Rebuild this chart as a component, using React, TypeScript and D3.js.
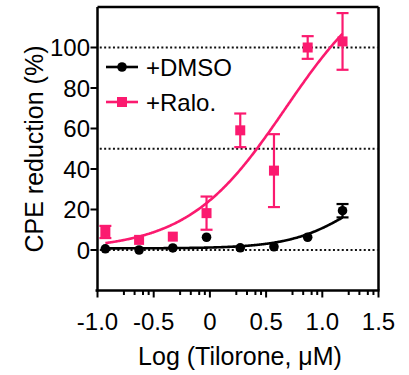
import React, {useEffect, useRef} from "react";
import * as d3 from "d3";

// log10 concentration of tilorone (uM)
const logConc: number[] = [-0.93, -0.63, -0.33, -0.03, 0.27, 0.57, 0.87, 1.18];

const dmsoMean: number[] = [0.6, 0, 1, 6.3, 1.1, 1.6, 6.3, 19.4];
const dmsoErr: number[] = [0, 0, 0, 0, 0, 0, 0, 3.3];

const raloMean: number[] = [8.9, 5, 6.6, 18.2, 59.1, 39.2, 100, 103];
const raloErr: number[] = [3, 0, 0, 8.2, 8.3, 18, 5.6, 14];

// fitted sigmoid params: bottom, top, logEC50, hill slope
const dmsoFit: number[] = [0.8, 40, 1.31, 1.5];
const raloFit: number[] = [0, 140, 0.673, 1];

const xTicks: number[] = [-1, -0.5, 0, 0.5, 1, 1.5];
const xTickLabels: string[] = ["-1.0", "-0.5", "0", "0.5", "1.0", "1.5"];
const minorFrac: number[] = [0.47, 0.66, 0.81, 0.91];
const yTicks: number[] = [0, 20, 40, 60, 80, 100];
const refLines: number[] = [0, 50, 100];

const PINK = "#fb1a6f";
const FONT = "'Liberation Sans', Arial, Helvetica, sans-serif";

const App: React.FC = () => {
    const svgRef = useRef<SVGSVGElement>(null);
    const width = 409;
    const height = 375;

    useEffect(() => {
        const svg = d3.select(svgRef.current);
        svg.selectAll("*").remove();

        const x = d3.scaleLinear().domain([-1, 1.5]).range([97.5, 378.5]);
        const y = d3.scaleLinear().domain([-20, 120]).range([290.5, 7]);

        const hill = (p: number[]) => (v: number) =>
            p[0] + (p[1] - p[0]) / (1 + Math.pow(10, (p[2] - v) * p[3]));

        // dotted reference lines
        svg.append("g").selectAll("line")
            .data(refLines)
            .join("line")
            .attr("x1", x(-0.98)).attr("x2", x(1.49))
            .attr("y1", d => y(d)).attr("y2", d => y(d))
            .attr("stroke", "#111")
            .attr("stroke-width", 2)
            .attr("stroke-dasharray", "2,2.4");

        // frame
        const frame = svg.append("g").attr("stroke", "#000").attr("stroke-width", 2.5).attr("fill", "none");
        frame.append("line").attr("x1", x(-1)).attr("x2", x(1.5)).attr("y1", y(120)).attr("y2", y(120));
        frame.append("line").attr("x1", x(1.5)).attr("x2", x(1.5)).attr("y1", y(120)).attr("y2", y(-20));
        frame.append("line").attr("x1", x(-1)).attr("x2", x(-1)).attr("y1", y(120)).attr("y2", y(-20) + 1);
        frame.append("line").attr("x1", x(-1) - 2).attr("x2", x(1.5) + 1).attr("y1", y(-20)).attr("y2", y(-20));

        // x ticks
        const xg = svg.append("g").attr("stroke", "#000").attr("stroke-width", 2);
        xTicks.forEach((t, i) => {
            xg.append("line").attr("x1", x(t)).attr("x2", x(t)).attr("y1", y(-20)).attr("y2", y(-20) + 7);
            if (i < xTicks.length - 1) {
                minorFrac.forEach(f => {
                    const v = t + 0.5 * f;
                    xg.append("line").attr("x1", x(v)).attr("x2", x(v)).attr("y1", y(-20)).attr("y2", y(-20) + 4.5);
                });
            }
        });
        svg.append("g").selectAll("text")
            .data(xTicks)
            .join("text")
            .attr("x", d => x(d))
            .attr("y", 330)
            .attr("text-anchor", "middle")
            .attr("font-family", FONT)
            .attr("font-size", 24)
            .text((d, i) => xTickLabels[i]);

        // y ticks
        svg.append("g").selectAll("line")
            .data(yTicks)
            .join("line")
            .attr("x1", x(-1) - 7).attr("x2", x(-1))
            .attr("y1", d => y(d)).attr("y2", d => y(d))
            .attr("stroke", "#000").attr("stroke-width", 2);
        svg.append("g").selectAll("text")
            .data(yTicks)
            .join("text")
            .attr("x", 90)
            .attr("y", d => y(d))
            .attr("dy", "0.36em")
            .attr("text-anchor", "end")
            .attr("font-family", FONT)
            .attr("font-size", 24)
            .text(d => d);

        // axis titles
        svg.append("text")
            .attr("x", 240).attr("y", 365)
            .attr("text-anchor", "middle")
            .attr("font-family", FONT).attr("font-size", 25)
            .text("Log (Tilorone, \u03bcM)");
        svg.append("text")
            .attr("transform", "translate(43,149) rotate(-90)")
            .attr("text-anchor", "middle")
            .attr("font-family", FONT).attr("font-size", 25)
            .text("CPE reduction (%)");

        // fitted curves
        const xs = d3.range(logConc[0], logConc[logConc.length - 1] + 0.001, 0.01);
        const line = d3.line<number>().curve(d3.curveMonotoneX);
        const series = [
            {fit: dmsoFit, color: "#000"},
            {fit: raloFit, color: PINK}
        ];
        series.forEach(s => {
            const f = hill(s.fit);
            svg.append("path")
                .attr("d", line(xs.map(v => [x(v), y(f(v))] as [number, number]) as any))
                .attr("fill", "none")
                .attr("stroke", s.color)
                .attr("stroke-width", 2.6);
        });

        // error bars + markers (zero error = bar hidden behind marker)
        const drawErr = (means: number[], errs: number[], color: string) => {
            const g = svg.append("g").attr("stroke", color).attr("stroke-width", 2.2);
            means.forEach((m, i) => {
                if (!errs[i]) return;
                const cx = x(logConc[i]);
                g.append("line").attr("x1", cx).attr("x2", cx).attr("y1", y(m + errs[i])).attr("y2", y(m - errs[i]));
                [m + errs[i], m - errs[i]].forEach(v => {
                    g.append("line").attr("x1", cx - 6).attr("x2", cx + 6).attr("y1", y(v)).attr("y2", y(v));
                });
            });
        };
        drawErr(dmsoMean, dmsoErr, "#000");
        drawErr(raloMean, raloErr, PINK);

        svg.append("g").selectAll("circle")
            .data(dmsoMean)
            .join("circle")
            .attr("cx", (d, i) => x(logConc[i]))
            .attr("cy", d => y(d))
            .attr("r", 4.8)
            .attr("fill", "#000");
        svg.append("g").selectAll("rect")
            .data(raloMean)
            .join("rect")
            .attr("x", (d, i) => x(logConc[i]) - 5)
            .attr("y", d => y(d) - 5)
            .attr("width", 10).attr("height", 10)
            .attr("fill", PINK);

        // legend
        const leg = svg.append("g");
        const items = [
            {label: "+DMSO", color: "#000", cy: 67, shape: "circle"},
            {label: "+Ralo.", color: PINK, cy: 102, shape: "rect"}
        ];
        items.forEach(it => {
            leg.append("line")
                .attr("x1", 106).attr("x2", 138)
                .attr("y1", it.cy).attr("y2", it.cy)
                .attr("stroke", it.color).attr("stroke-width", 2.6);
            if (it.shape === "circle") {
                leg.append("circle").attr("cx", 122).attr("cy", it.cy).attr("r", 4.8).attr("fill", it.color);
            } else {
                leg.append("rect").attr("x", 117).attr("y", it.cy - 5).attr("width", 10).attr("height", 10).attr("fill", it.color);
            }
            leg.append("text")
                .attr("x", 146).attr("y", it.cy + 8.5)
                .attr("font-family", FONT).attr("font-size", 24)
                .text(it.label);
        });
    }, []);

    return <svg ref={svgRef} width={width} height={height}
                style={{position: "absolute", left: 0, top: 0, background: "#fff"}}></svg>;
};

export default App;
